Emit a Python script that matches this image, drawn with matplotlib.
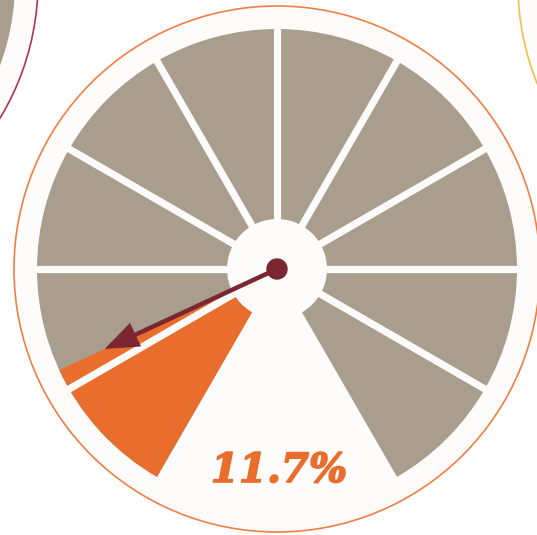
"""
Gauge dial showing a single percentage value
"""
import matplotlib
matplotlib.use('Agg')
import matplotlib.pyplot as plt
import matplotlib.patheffects as pe
from matplotlib.patches import Circle, Wedge
import numpy as np

# data
value = 11.7                 # percent shown on the dial
n_segments = 10
value_label = '11.7%'

# dial geometry (pixel units, y up)
W, H = 537, 535
start_deg, end_deg = 240, -60
span = start_deg - end_deg
r_ring, r_outer, r_hub = 263, 240, 50

GRAY = '#a99d8e'
ORANGE = '#e96d2c'
NEEDLE = '#7b2631'
PAPER = '#fdfcfa'


def draw_dial(ax, cx, cy, edge, fill_value=None):
    ax.add_patch(Circle((cx, cy), r_ring, facecolor=PAPER, edgecolor=edge,
                        lw=1.2, zorder=1))
    step = span / n_segments
    for i in range(n_segments):
        t2 = start_deg - step * i
        t1 = t2 - step
        ax.add_patch(Wedge((cx, cy), r_outer, t1, t2, width=r_outer - r_hub,
                           facecolor=GRAY, edgecolor='none', zorder=2))
    if fill_value is not None:
        t1 = start_deg - span * fill_value / 100
        ax.add_patch(Wedge((cx, cy), r_outer, t1, start_deg,
                           width=r_outer - r_hub, facecolor=ORANGE,
                           edgecolor='none', zorder=3))
    # white separators between segments
    for i in range(1, n_segments):
        a = np.radians(start_deg - step * i)
        ax.plot([cx + (r_hub - 5) * np.cos(a), cx + (r_outer + 5) * np.cos(a)],
                [cy + (r_hub - 5) * np.sin(a), cy + (r_outer + 5) * np.sin(a)],
                color=PAPER, lw=5.2, solid_capstyle='butt', zorder=4)


fig = plt.figure(figsize=(W / 100, H / 100), dpi=100)
ax = fig.add_axes([0, 0, 1, 1])
ax.set_xlim(0, W)
ax.set_ylim(0, H)
ax.set_aspect('equal')
ax.axis('off')

# neighbouring dials peeking in from the corners
draw_dial(ax, -225, H + 18, '#b2344f')
draw_dial(ax, 781, H + 15, '#f5bf45')

# main dial
cx, cy = 277, H - 269
draw_dial(ax, cx, cy, '#ef7f45', fill_value=value)

# needle
a = np.radians(start_deg - span * value / 100)
L = 190
ax.arrow(cx, cy, L * np.cos(a), L * np.sin(a), width=4.5, head_width=26,
         head_length=34, length_includes_head=True, color=NEEDLE,
         lw=0, zorder=6)
ax.add_patch(Circle((cx, cy), 10, color=NEEDLE, zorder=7))

ax.text(cx + 2, H - 471, value_label, ha='center', va='center',
        fontsize=29, fontweight='bold', fontstyle='italic',
        family='DejaVu Serif', color=ORANGE, zorder=8,
        path_effects=[pe.withStroke(linewidth=1.2, foreground=ORANGE)])

plt.savefig('out.png', dpi=100, facecolor='white')
